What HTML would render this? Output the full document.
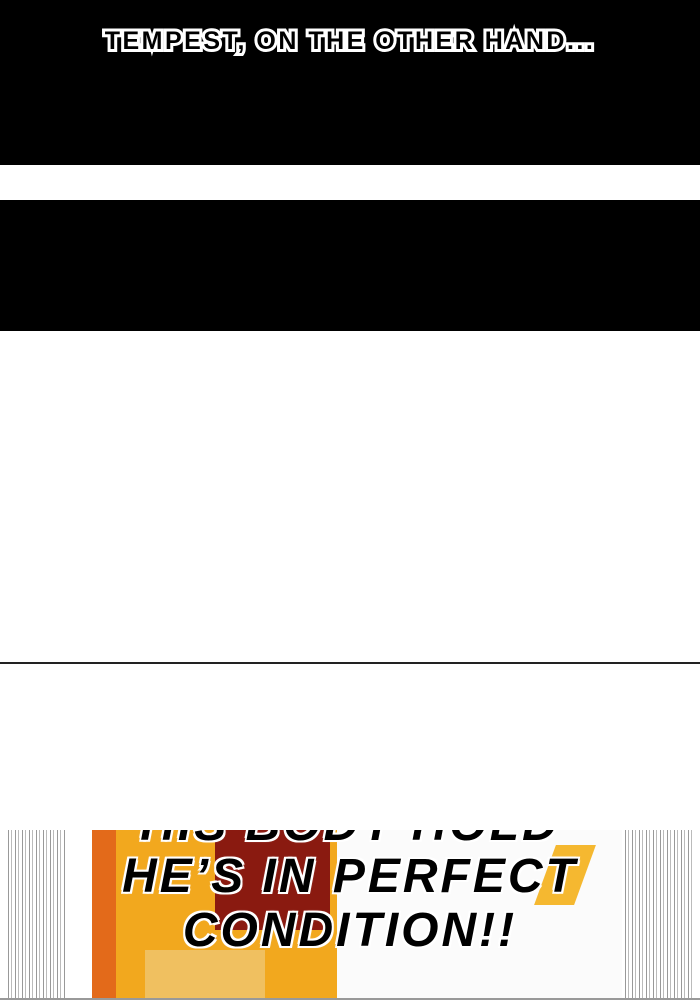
<!DOCTYPE html>
<html><head><meta charset="utf-8"><style>
html,body{margin:0;padding:0;width:700px;height:1000px;overflow:hidden;background:#fff;position:relative;font-family:"Liberation Sans",sans-serif}
.blk{position:absolute;left:0;width:700px;background:#000}
.cap2{position:absolute;top:27px;left:0;width:700px;text-align:center;color:#000;font-weight:bold;font-size:25px;letter-spacing:2.5px}
.line{position:absolute;top:662px;left:0;width:700px;height:2px;background:#222}
.panel{position:absolute;top:830px;left:0;width:700px;height:170px;background:#fff;overflow:hidden}
.stripes{position:absolute;top:0;height:170px;background:repeating-linear-gradient(90deg,#fff 0 3px,#999 3px 4px,#fff 4px 6px,#bbb 6px 7px)}
.txt{position:absolute;left:0;width:700px;text-align:center;font-style:italic;font-weight:bold;font-size:48px;letter-spacing:3px;color:#000;line-height:54px;text-shadow:0 0 3px #fff,2px 2px 0 #fff,-2px -2px 0 #fff,2px -2px 0 #fff,-2px 2px 0 #fff}
</style></head><body>
<div class="blk" style="top:0;height:165px"></div>
<div class="blk" style="top:200px;height:131px"></div>
<div class="cap2" style="color:#fff;-webkit-text-stroke:6px #fff">TEMPEST, ON THE OTHER HAND...</div>
<div class="cap2">TEMPEST, ON THE OTHER HAND...</div>
<div class="line"></div>
<div class="panel">
 <div class="stripes" style="left:5px;width:62px"></div>
 <div class="stripes" style="left:622px;width:70px"></div>
 <div style="position:absolute;left:92px;top:0;width:245px;height:170px;background:#f2a81e"></div>
 <div style="position:absolute;left:92px;top:0;width:24px;height:170px;background:#e36a1a"></div>
 <div style="position:absolute;left:215px;top:0;width:115px;height:100px;background:#8a1a10"></div>
 <div style="position:absolute;left:145px;top:120px;width:120px;height:50px;background:#f0c060"></div>
 <div style="position:absolute;left:337px;top:0;width:285px;height:170px;background:#fbfbfb"></div>
 <div style="position:absolute;left:545px;top:15px;width:40px;height:60px;background:#f5b830;transform:skewX(-20deg)"></div>
 <div style="position:absolute;left:0;top:168px;width:700px;height:2px;background:#999"></div>
 <div class="txt" style="top:-32px">HIS BODY HOLD</div>
 <div class="txt" style="top:20px">HE’S IN PERFECT</div>
 <div class="txt" style="top:74px">CONDITION!!</div>
</div>
</body></html>
